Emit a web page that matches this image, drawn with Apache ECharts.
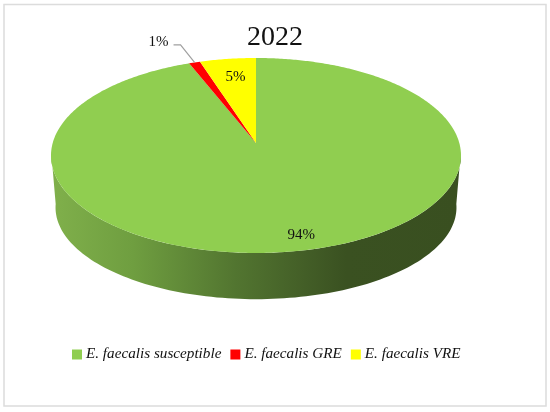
<!DOCTYPE html>
<html>
<head>
<meta charset="utf-8">
<style>
  html, body { margin: 0; padding: 0; background: #fff; }
  #chart { width: 550px; height: 412px; }
</style>
<script src="https://cdn.jsdelivr.net/npm/echarts@6/dist/echarts.min.js"></script>
</head>
<body>
<div id="chart"></div>
<script>
  var titleText = '2022';
  var categories = ['E. faecalis susceptible', 'E. faecalis GRE', 'E. faecalis VRE'];
  var values = [94, 1, 5];
  var sliceColors = ['#90ce50', '#ff0000', '#ffff00'];
  var fontName = '"Liberation Serif", serif';

  var total = values.reduce(function (a, b) { return a + b; }, 0);

  // tilted disc: unit circle projected so the centre sits above the middle of the ellipse
  var cx = 256, apexY = 143, kx = 203.3, ky = -77.6, persp = 0.128;
  function project(angle, r) {
    var u = Math.sin(angle) * r, v = Math.cos(angle) * r, w = 1 + persp * v;
    return [cx + kx * u / w, (apexY + ky * v) / w];
  }
  // same disc, lower edge of the wall
  function projectBottom(angle) {
    var p = project(angle, 1);
    return [cx + (p[0] - cx) * 0.978, 208 + (p[1] - 156) * 0.94];
  }

  function slicePoints(start, end) {
    var pts = [[cx, apexY]];
    var steps = Math.max(2, Math.ceil((end - start) * 90));
    for (var i = 0; i <= steps; i++) {
      pts.push(project(start + (end - start) * i / steps, 1));
    }
    return pts;
  }

  function wallPoints() {
    var pts = [], i, n = 120, a0 = Math.PI / 2 + persp * 0.7, a1 = Math.PI * 1.5 - persp * 0.7;
    for (i = 0; i <= n; i++) pts.push(project(a0 + (a1 - a0) * i / n, 1));
    for (i = n; i >= 0; i--) pts.push(projectBottom(a0 + (a1 - a0) * i / n));
    return pts;
  }

  var labelSpots = [
    { r: 0.87, dx: 8 },
    { r: 1, leader: true },
    { r: 0.76, dx: 1.5 }
  ];

  function sliceSeries(idx) {
    var before = values.slice(0, idx).reduce(function (a, b) { return a + b; }, 0);
    var start = before / total * Math.PI * 2;
    var end = (before + values[idx]) / total * Math.PI * 2;
    var mid = (start + end) / 2;
    return {
      type: 'custom',
      name: categories[idx],
      coordinateSystem: 'none',
      itemStyle: { color: sliceColors[idx] },
      z: 3,
      silent: true,
      data: [values[idx]],
      renderItem: function () {
        var children = [{
          type: 'polygon',
          shape: { points: slicePoints(start, end) },
          style: { fill: sliceColors[idx] }
        }];
        var spot = labelSpots[idx], pos;
        if (spot.leader) {
          var rim = project(mid, 1);
          children.push({
            type: 'polyline',
            shape: { points: [rim, [rim[0] - 14, rim[1] - 17.5], [rim[0] - 21, rim[1] - 17.5]] },
            style: { fill: null, stroke: '#a0a0a0', lineWidth: 1.2 }
          });
          pos = [rim[0] - 36, rim[1] - 20];
        } else {
          pos = project(mid, spot.r);
          pos[0] += spot.dx;
        }
        children.push({
          type: 'text',
          style: {
            x: pos[0], y: pos[1],
            text: values[idx] + '%',
            fill: '#111',
            font: '15px ' + fontName,
            align: 'center',
            verticalAlign: 'middle'
          }
        });
        return { type: 'group', children: children };
      }
    };
  }

  var wallSeries = {
    type: 'custom',
    coordinateSystem: 'none',
    z: 2,
    silent: true,
    data: [total],
    renderItem: function () {
      return {
        type: 'polygon',
        shape: { points: wallPoints() },
        style: {
          fill: new echarts.graphic.LinearGradient(0, 0, 1, 0, [
            { offset: 0, color: '#80b04b' },
            { offset: 0.2, color: '#6f9e40' },
            { offset: 0.45, color: '#527530' },
            { offset: 0.62, color: '#435e27' },
            { offset: 0.72, color: '#3a5121' },
            { offset: 1, color: '#394f20' }
          ])
        }
      };
    }
  };

  var chart = echarts.init(document.getElementById('chart'), null, { renderer: 'canvas' });
  chart.setOption({
    animation: false,
    backgroundColor: '#fff',
    title: {
      text: titleText,
      left: 270,
      top: 19,
      textAlign: 'center',
      textStyle: { fontFamily: fontName, fontSize: 28, fontWeight: 'normal', color: '#111' }
    },
    legend: {
      data: categories,
      left: 67,
      top: 342,
      icon: 'rect',
      itemWidth: 10,
      itemHeight: 10,
      itemGap: 9,
      textStyle: { fontFamily: fontName, fontSize: 15.2, fontStyle: 'italic', color: '#111', padding: [0, 0, 0, -1] }
    },
    // outer frame of the chart area
    graphic: [{
      type: 'rect',
      silent: true,
      shape: { x: 4, y: 4.5, width: 542, height: 401.5 },
      style: { fill: null, stroke: '#dcdcdc', lineWidth: 1.5 }
    }],
    series: [wallSeries].concat(values.map(function (v, i) { return sliceSeries(i); }))
  });
</script>
</body>
</html>
